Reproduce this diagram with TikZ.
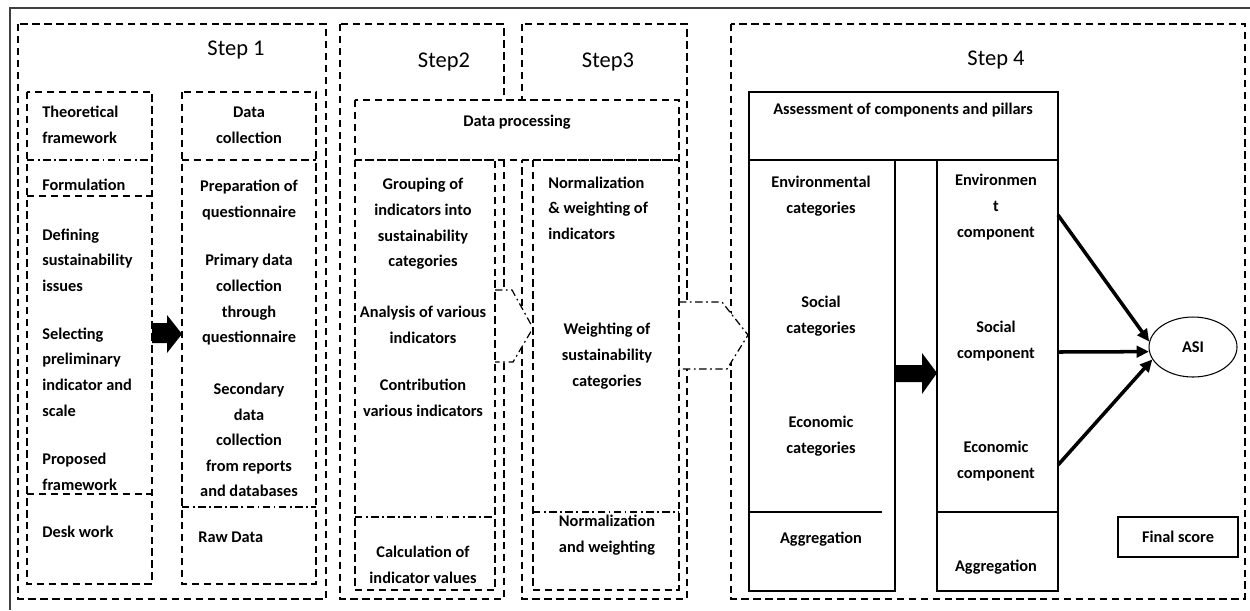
\documentclass[tikz,border=0pt]{standalone}
\usepackage{fontspec}
\setmainfont{Carlito}
\usetikzlibrary{arrows.meta,shapes.geometric}

\begin{document}
\begin{tikzpicture}[x=0.02cm, y=-0.02cm,
  dsh/.style={dash pattern=on 4.2pt off 2.6pt, line width=0.7pt},
  dshdot/.style={dash pattern=on 4.2pt off 2pt on 1pt off 2pt, line width=0.7pt},
  solidbox/.style={line width=0.8pt},
  txt/.style={font=\bfseries\fontsize{9.3}{14.6}\selectfont, align=center, inner sep=0pt},
  ltxt/.style={txt, align=left, anchor=west},
  steplbl/.style={font=\fontsize{12.8}{15}\selectfont, inner sep=0pt},
  asiarrow/.style={line width=2pt, -{Triangle[length=7pt,width=6.5pt]}}]
\useasboundingbox (0,0) rectangle (1250,610);
\draw[line width=1pt, black!75] (10,610) -- (10,8) -- (1250,8);

% the four steps
\draw[dsh] (18,24) rectangle (326,599);
\draw[dsh] (340,24) rectangle (504,599);
\draw[dsh] (522,24) rectangle (687,599);
\draw[dsh] (731,24) rectangle (1245,599);
\foreach \n/\x/\y/\s in {1/236/50/Step 1, 2/444/62/Step2, 3/608/62/Step3, 4/996/60/Step 4}
  \node[steplbl] (step\n) at (\x,\y) {\s};

% step 1
\draw[dsh] (27,92) rectangle (152,584);
\draw[dshdot] (27,160) -- (152,160);
\draw[dsh] (27,196) -- (152,196);
\draw[dsh] (27,494) -- (152,494);
\node[ltxt] (tfw) at (42,125) {Theoretical\\framework};
\node[ltxt] (form) at (42,185) {Formulation};
\node[ltxt] (defin) at (42,260) {Defining\\sustainability\\issues};
\node[ltxt] (selec) at (42,372) {Selecting\\preliminary\\indicator and\\scale};
\node[ltxt] (propo) at (42,472) {Proposed\\framework};
\node[ltxt] (desk) at (42,532) {Desk work};

\draw[dsh] (182,92) rectangle (316,584);
\draw[dsh] (182,160) -- (316,160);
\draw[dshdot] (182,507) -- (316,507);
\node[txt] (dcol) at (249,125) {Data\\collection};
\node[txt] (prep) at (249,200) {Preparation of\\questionnaire};
\node[txt] (prim) at (249,300) {Primary data\\collection\\through\\questionnaire};
\node[txt] (secd) at (249,440) {Secondary\\data\\collection\\from reports\\and databases};
\node[ltxt] (raw) at (198,537) {Raw Data};

\fill (152,323) -- (167,323) -- (167,315) -- (182,334) -- (167,353) -- (167,343) -- (152,343) -- cycle;

% steps 2 and 3
\draw[dsh, fill=white] (355,100) rectangle (679,160);
\node[txt] (dproc) at (517,122) {Data processing};
\draw[dshdot, fill=white] (495,290) -- (512,290) -- (533,328) -- (513,362) -- (495,362);
\draw[dshdot, fill=white] (679,302) -- (722,302) -- (748,335) -- (727,369) -- (679,369);

\draw[dsh] (355,160) rectangle (495,590);
\draw[dshdot] (355,517) -- (495,517);
\node[txt] (group) at (423,224) {Grouping of\\indicators into\\sustainability\\categories};
\node[txt] (analy) at (423,325) {Analysis of various\\indicators};
\node[txt] (contr) at (423,398) {Contribution\\various indicators};
\node[txt] (calc) at (423,565) {Calculation of\\indicator values};

\draw[dsh] (533,160) rectangle (679,590);
\draw[dshdot] (533,512) -- (679,512);
\node[ltxt] (normw) at (548,208) {Normalization\\\& weighting of\\indicators};
\node[txt] (wsust) at (607,356) {Weighting of\\sustainability\\categories};
\node[txt] (normagg) at (607,535) {Normalization\\and weighting};

% step 4
\draw[solidbox] (749,92) rectangle (1058,160);
\draw[solidbox] (749,160) rectangle (895,591);
\draw[solidbox] (749,512) -- (882,512);
\draw[solidbox] (937,160) rectangle (1058,591);
\draw[solidbox] (937,512) -- (1058,512);
\node[txt] (assess) at (903,110) {Assessment of components and pillars};
\node[txt] (envcat) at (821,196) {Environmental\\categories};
\node[txt] (soccat) at (821,316) {Social\\categories};
\node[txt] (ecocat) at (821,436) {Economic\\categories};
\node[txt] (aggl) at (821,539) {Aggregation};
\node[txt] (envcomp) at (996,207) {Environmen\\t\\component};
\node[txt] (soccomp) at (996,341) {Social\\component};
\node[txt] (ecocomp) at (996,461) {Economic\\component};
\node[txt] (aggr) at (996,567) {Aggregation};

\fill (895,365) -- (922,365) -- (922,353) -- (937,373) -- (922,394) -- (922,382) -- (895,382) -- cycle;

\node[txt, draw, ellipse, line width=0.6pt, minimum width=1.76cm, minimum height=1.2cm] (asi) at (1193,347) {ASI};
\node[txt, draw, solidbox, minimum width=2.4cm, minimum height=0.8cm] (final) at (1178,537) {Final score};

\coordinate (envout) at (1058,215);
\coordinate (socout) at (1058,352);
\coordinate (ecoout) at (1058,465);
\draw[asiarrow] (envout) -- (asi.173);
\draw[asiarrow] (socout) -- (asi.186);
\draw[asiarrow] (ecoout) -- (asi.197);
\end{tikzpicture}
\end{document}
